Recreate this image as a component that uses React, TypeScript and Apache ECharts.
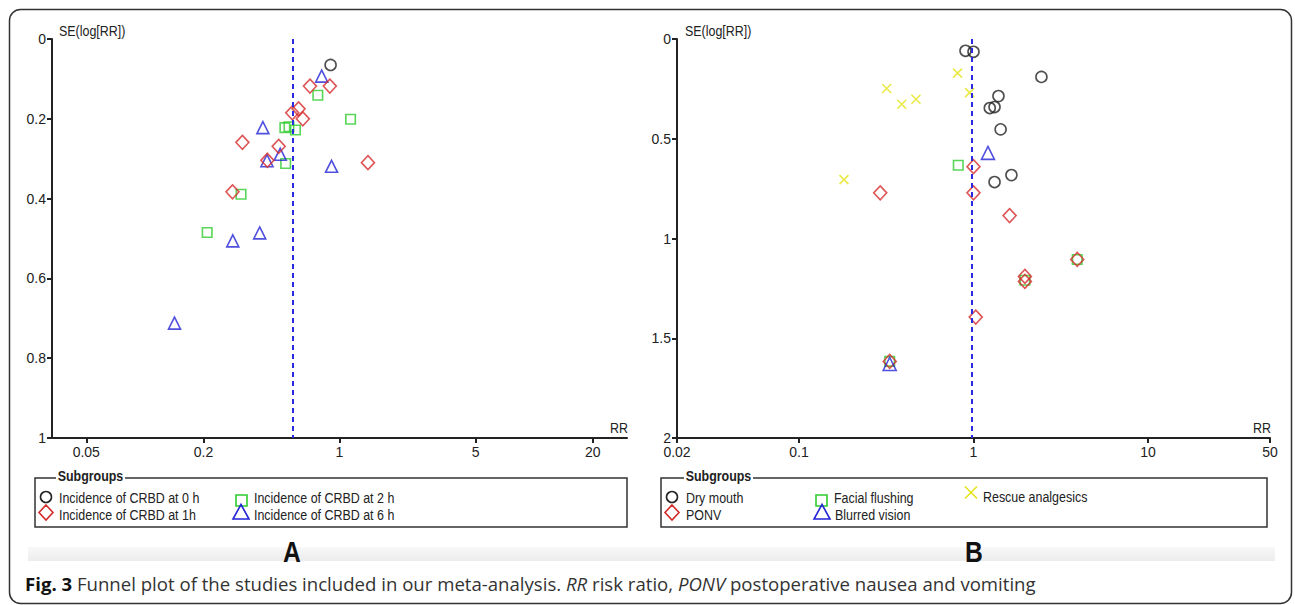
import React, { useEffect, useRef } from "react";
import * as echarts from "echarts";

// ---------- Panel A data (RR, SE(log RR)) ----------
const aZeroRR = [0.9];
const aZeroSE = [0.065];
const aOneRR = [0.705, 0.892, 0.616, 0.572, 0.648, 0.317, 0.487, 0.426, 1.4, 0.282];
const aOneSE = [0.118, 0.118, 0.175, 0.185, 0.2, 0.259, 0.269, 0.304, 0.31, 0.383];
const aTwoRR = [0.774, 1.14, 0.524, 0.55, 0.594, 0.529, 0.312, 0.209];
const aTwoSE = [0.141, 0.201, 0.222, 0.22, 0.228, 0.312, 0.389, 0.485];
const aSixRR = [0.81, 0.404, 0.496, 0.424, 0.91, 0.283, 0.389, 0.142];
const aSixSE = [0.093, 0.222, 0.289, 0.305, 0.319, 0.506, 0.486, 0.712];
const pooledA = 0.58;

// ---------- Panel B data ----------
const dryRR = [0.9, 1.0, 2.45, 1.39, 1.24, 1.32, 1.43, 1.65, 1.32];
const drySE = [0.059, 0.064, 0.19, 0.286, 0.346, 0.341, 0.453, 0.682, 0.717];
const ponvRR = [1.0, 1.0, 0.292, 1.61, 3.93, 1.97, 1.97, 1.03, 0.331];
const ponvSE = [0.64, 0.771, 0.771, 0.885, 1.105, 1.19, 1.215, 1.394, 1.616];
const flushRR = [0.818, 3.93, 1.97, 0.331];
const flushSE = [0.633, 1.105, 1.209, 1.616];
const blurRR = [1.21, 0.331];
const blurSE = [0.571, 1.629];
const rescueRR = [0.318, 0.388, 0.468, 0.181, 0.81, 0.95];
const rescueSE = [0.248, 0.327, 0.302, 0.705, 0.171, 0.269];
const pooledB = 0.97;

// ---------- Axes ----------
const aXTicks = [0.05, 0.2, 1, 5, 20];
const aXTickLabels = ["0.05", "0.2", "1", "5", "20"];
const aXMin = 1 / 30;
const aXMax = 30;
const bXTicks = [0.02, 0.1, 1, 10, 50];
const bXTickLabels = ["0.02", "0.1", "1", "10", "50"];
const bXMin = 0.02;
const bXMax = 50;

const legendA = [
  "Incidence of CRBD at 0 h",
  "Incidence of CRBD at 1h",
  "Incidence of CRBD at 2 h",
  "Incidence of CRBD at 6 h",
];
const legendB = ["Dry mouth", "PONV", "Facial flushing", "Blurred vision", "Rescue analgesics"];

const SANS = "'Liberation Sans', Arial, sans-serif";
const SQUEEZE = 0.83;
const AXIS_COLOR = "#222";
const BLACK = "#222222";
const RED = "#d42a2a";
const GREEN = "#2ecc2e";
const BLUE = "#2424d6";
const YELLOW = "#e4e41a";
const XPATH = "path://M0,0L10,10M0,10L10,0";

const lg = (v: number) => Math.log10(v);
const pts = (rr: number[], se: number[]) => rr.map((r, i) => [lg(r), se[i]]);

function xAxisFor(gridIndex: number, min: number, max: number, ticks: number[], labels: string[]) {
  const tv = ticks.map(lg);
  return {
    gridIndex,
    type: "value",
    position: "bottom",
    min: lg(min),
    max: lg(max),
    axisLine: { show: true, onZero: false, lineStyle: { color: AXIS_COLOR, width: 2 } },
    axisTick: { show: true, length: 5, customValues: tv, lineStyle: { color: AXIS_COLOR, width: 2 } },
    axisLabel: {
      show: true,
      customValues: tv,
      margin: 7,
      color: AXIS_COLOR,
      fontSize: 14,
      fontFamily: SANS,
      formatter: (v: number) => {
        let best = 0;
        tv.forEach((t, i) => {
          if (Math.abs(t - v) < Math.abs(tv[best] - v)) best = i;
        });
        return labels[best];
      },
    },
    splitLine: { show: false },
  };
}

function yAxisFor(gridIndex: number, max: number, interval: number) {
  return {
    gridIndex,
    type: "value",
    inverse: true,
    min: 0,
    max,
    interval,
    axisLine: { show: true, onZero: false, lineStyle: { color: AXIS_COLOR, width: 2 } },
    axisTick: { show: true, length: 5, lineStyle: { color: AXIS_COLOR, width: 2 } },
    axisLabel: { margin: 6, color: AXIS_COLOR, fontSize: 14, fontFamily: SANS },
    splitLine: { show: false },
  };
}

function scatter(
  name: string,
  idx: number,
  rr: number[],
  se: number[],
  symbol: string,
  size: number | number[],
  color: string
) {
  return {
    name,
    type: "scatter",
    xAxisIndex: idx,
    yAxisIndex: idx,
    data: pts(rr, se),
    symbol,
    symbolSize: size,
    itemStyle: { color: "rgba(0,0,0,0)", borderColor: color, borderWidth: 1.6 },
    emphasis: { disabled: true },
  };
}

function pooledLine(idx: number, val: number) {
  return {
    type: "scatter",
    xAxisIndex: idx,
    yAxisIndex: idx,
    data: [],
    markLine: {
      silent: true,
      symbol: ["none", "none"],
      label: { show: false },
      lineStyle: { color: "#2a2ae0", type: [5, 4], width: 2 },
      data: [{ xAxis: lg(val) }],
    },
  };
}

function narrowText(text: string, x: number, y: number, extra: any = {}) {
  return {
    type: "text",
    x,
    y,
    scaleX: SQUEEZE,
    style: { text, fill: "#222", fontSize: 15, fontFamily: SANS, verticalAlign: "middle", ...extra },
  };
}

function legendGraphics(
  x0: number,
  x1: number,
  titleX: number,
  items: { kind: string; cx: number; cy: number; text: string; tx: number; ty: number; color: string }[]
) {
  const g: any[] = [
    {
      type: "rect",
      shape: { x: x0, y: 478, width: x1 - x0, height: 49 },
      style: { fill: "none", stroke: "#333", lineWidth: 1.5 },
    },
    narrowText("Subgroups", titleX, 476, { fontWeight: "bold", backgroundColor: "#fff", padding: [0, 2] }),
  ];
  items.forEach((it) => {
    const st = { fill: "none", stroke: it.color, lineWidth: 1.6 };
    if (it.kind === "circle") g.push({ type: "circle", shape: { cx: it.cx, cy: it.cy, r: 5.5 }, style: st });
    if (it.kind === "diamond")
      g.push({
        type: "polygon",
        shape: { points: [[it.cx, it.cy - 7.5], [it.cx + 7, it.cy], [it.cx, it.cy + 7.5], [it.cx - 7, it.cy]] },
        style: st,
      });
    if (it.kind === "square")
      g.push({ type: "rect", shape: { x: it.cx - 5.5, y: it.cy - 5.5, width: 11, height: 11 }, style: st });
    if (it.kind === "triangle")
      g.push({
        type: "polygon",
        shape: { points: [[it.cx, it.cy - 7.5], [it.cx + 8, it.cy + 7], [it.cx - 8, it.cy + 7]] },
        style: st,
      });
    if (it.kind === "cross") {
      g.push({ type: "line", shape: { x1: it.cx - 6, y1: it.cy - 6, x2: it.cx + 6, y2: it.cy + 6 }, style: st });
      g.push({ type: "line", shape: { x1: it.cx - 6, y1: it.cy + 6, x2: it.cx + 6, y2: it.cy - 6 }, style: st });
    }
    g.push(narrowText(it.text, it.tx, it.ty));
  });
  return g;
}

export default function App() {
  const ref = useRef<HTMLDivElement>(null);
  useEffect(() => {
    document.body.style.margin = "0";
    if (!ref.current) return;
    const chart = echarts.init(ref.current, undefined, { renderer: "svg" });

    const graphic: any[] = [
      {
        type: "rect",
        z: -10,
        shape: { x: 9.5, y: 9.5, width: 1282, height: 594, r: 11 },
        style: { fill: "none", stroke: "#333", lineWidth: 1.5 },
      },
      {
        type: "rect",
        z: -10,
        shape: { x: 28, y: 547, width: 1247, height: 14 },
        style: {
          fill: new echarts.graphic.LinearGradient(0, 0, 0, 1, [
            { offset: 0, color: "#f8f8f8" },
            { offset: 1, color: "#ececec" },
          ]),
        },
      },
      narrowText("SE(log[RR])", 59, 31),
      narrowText("SE(log[RR])", 685, 31),
      narrowText("RR", 628, 428, { align: "right" }),
      narrowText("RR", 1271, 428, { align: "right" }),
      {
        type: "text",
        x: 292,
        y: 552,
        scaleX: 0.85,
        style: { text: "A", fill: "#111", fontSize: 29, fontWeight: "bold", fontFamily: SANS, align: "center", verticalAlign: "middle" },
      },
      {
        type: "text",
        x: 974,
        y: 552,
        scaleX: 0.85,
        style: { text: "B", fill: "#111", fontSize: 29, fontWeight: "bold", fontFamily: SANS, align: "center", verticalAlign: "middle" },
      },
      {
        type: "text",
        x: 25,
        y: 583,
        style: {
          text: "{b|Fig. 3} Funnel plot of the studies included in our meta-analysis. {i|RR} risk ratio, {i|PONV} postoperative nausea and vomiting",
          fill: "#333",
          fontSize: 18.6,
          fontFamily: "'Open Sans', sans-serif",
          verticalAlign: "middle",
          rich: {
            b: { fontWeight: "bold", fontSize: 18.6, fontFamily: "'Open Sans', sans-serif", fill: "#111" },
            i: { fontStyle: "italic", fontSize: 18.6, fontFamily: "'Open Sans', sans-serif", fill: "#333" },
          },
        },
      },
      ...legendGraphics(35, 627, 56, [
        { kind: "circle", cx: 46, cy: 497, text: legendA[0], tx: 59, ty: 498, color: BLACK },
        { kind: "diamond", cx: 46, cy: 512.5, text: legendA[1], tx: 59, ty: 515, color: RED },
        { kind: "square", cx: 241.5, cy: 500.5, text: legendA[2], tx: 254, ty: 498, color: GREEN },
        { kind: "triangle", cx: 241, cy: 512, text: legendA[3], tx: 254, ty: 515, color: BLUE },
      ]),
      ...legendGraphics(661, 1267, 684, [
        { kind: "circle", cx: 672, cy: 497, text: legendB[0], tx: 686, ty: 498, color: BLACK },
        { kind: "diamond", cx: 672, cy: 512.5, text: legendB[1], tx: 686, ty: 515, color: RED },
        { kind: "square", cx: 821.5, cy: 500.5, text: legendB[2], tx: 834, ty: 498, color: GREEN },
        { kind: "triangle", cx: 822, cy: 512, text: legendB[3], tx: 835, ty: 515, color: BLUE },
        { kind: "cross", cx: 971, cy: 492.5, text: legendB[4], tx: 983, ty: 497, color: YELLOW },
      ]),
    ];

    chart.setOption({
      animation: false,
      backgroundColor: "#fff",
      grid: [
        { left: 52, top: 39, width: 575, height: 399 },
        { left: 677, top: 39, width: 593, height: 399 },
      ],
      xAxis: [
        xAxisFor(0, aXMin, aXMax, aXTicks, aXTickLabels),
        xAxisFor(1, bXMin, bXMax, bXTicks, bXTickLabels),
      ],
      yAxis: [yAxisFor(0, 1, 0.2), yAxisFor(1, 2, 0.5)],
      series: [
        pooledLine(0, pooledA),
        scatter(legendA[2], 0, aTwoRR, aTwoSE, "rect", 9.5, GREEN),
        scatter(legendA[3], 0, aSixRR, aSixSE, "triangle", [12, 12], BLUE),
        scatter(legendA[1], 0, aOneRR, aOneSE, "diamond", [13, 14], RED),
        scatter(legendA[0], 0, aZeroRR, aZeroSE, "circle", 11, BLACK),
        pooledLine(1, pooledB),
        scatter(legendB[0], 1, dryRR, drySE, "circle", 11, BLACK),
        scatter(legendB[2], 1, flushRR, flushSE, "rect", 9.5, GREEN),
        scatter(legendB[1], 1, ponvRR, ponvSE, "diamond", [13, 14], RED),
        scatter(legendB[3], 1, blurRR, blurSE, "triangle", [13, 13], BLUE),
        scatter(legendB[4], 1, rescueRR, rescueSE, XPATH, 9, YELLOW),
      ],
      graphic,
    });
    return () => chart.dispose();
  }, []);
  return (
    <div
      ref={ref}
      style={{ width: 1295, height: 605, position: "absolute", left: 0, top: 0, background: "#fff" }}
    />
  );
}
